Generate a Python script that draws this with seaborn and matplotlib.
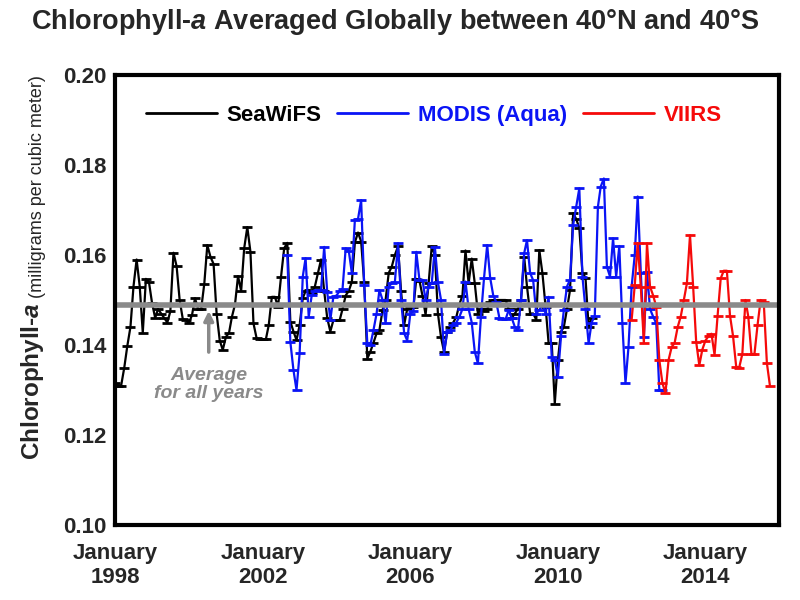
import pandas as pd
import matplotlib
matplotlib.use('Agg')
import matplotlib.pyplot as plt
import matplotlib.dates as mdates
import seaborn as sns
from matplotlib.lines import Line2D

# monthly chlorophyll-a (mg per cubic meter)
seawifs_start = '1998-01-01'
seawifs_chl = [
    0.1316, 0.1310, 0.1310, 0.1350, 0.1398, 0.1440, 0.1530, 0.1590, 0.1530, 0.1427, 0.1547, 0.1540,  # 1998
    0.1493, 0.1460, 0.1480, 0.1470, 0.1460, 0.1450, 0.1475, 0.1605, 0.1575, 0.1500, 0.1458, 0.1455,  # 1999
    0.1449, 0.1467, 0.1504, 0.1480, 0.1480, 0.1536, 0.1622, 0.1596, 0.1580, 0.1470, 0.1410, 0.1389,  # 2000
    0.1418, 0.1427, 0.1462, 0.1490, 0.1553, 0.1520, 0.1615, 0.1662, 0.1607, 0.1448, 0.1415, 0.1413,  # 2001
    0.1413, 0.1413, 0.1444, 0.1507, 0.1507, 0.1485, 0.1552, 0.1615, 0.1627, 0.1452, 0.1430, 0.1411,  # 2002
    0.1444, 0.1504, 0.1520, 0.1522, 0.1515, 0.1530, 0.1560, 0.1590, 0.1520, 0.1460, 0.1430, 0.1455,  # 2003
    0.1455, 0.1455, 0.1480, 0.1510, 0.1520, 0.1540, 0.1628, 0.1650, 0.1630, 0.1540, 0.1370, 0.1385,  # 2004
    0.1405, 0.1426, 0.1433, 0.1478, 0.1500, 0.1560, 0.1574, 0.1600, 0.1619, 0.1520, 0.1445, 0.1480,  # 2005
    0.1485, 0.1485, 0.1547, 0.1543, 0.1510, 0.1467, 0.1537, 0.1619, 0.1600, 0.1470, 0.1417, 0.1385,  # 2006
    0.1430, 0.1440, 0.1450, 0.1462, 0.1490, 0.1510, 0.1610, 0.1537, 0.1592, 0.1537, 0.1470, 0.1480,  # 2007
    0.1475, 0.1480, 0.1495, 0.1500, 0.1500, 0.1500, 0.1500, 0.1500, 0.1480, 0.1460, 0.1470, 0.1480,  # 2008
    0.1500, 0.1596, 0.1530, 0.1470, 0.1470, 0.1456, 0.1611, 0.1559, 0.1485, 0.1404, 0.1404, 0.1270,  # 2009
    0.1367, 0.1430, 0.1440, 0.1480, 0.1522, 0.1693, 0.1680, 0.1660, 0.1560, 0.1550, 0.1441, 0.1460,  # 2010
]

modis_start = '2002-09-01'
modis_chl = [
    0.1600, 0.1407, 0.1344, 0.1300,  # 2002
    0.1382, 0.1552, 0.1593, 0.1463, 0.1511, 0.1520, 0.1522, 0.1522, 0.1618, 0.1518, 0.1456, 0.1507,  # 2003
    0.1510, 0.1520, 0.1525, 0.1615, 0.1610, 0.1560, 0.1678, 0.1680, 0.1722, 0.1533, 0.1404, 0.1400,  # 2004
    0.1433, 0.1470, 0.1522, 0.1500, 0.1448, 0.1530, 0.1537, 0.1540, 0.1626, 0.1500, 0.1426, 0.1410,  # 2005
    0.1470, 0.1475, 0.1607, 0.1545, 0.1545, 0.1500, 0.1530, 0.1537, 0.1618, 0.1540, 0.1500, 0.1381,  # 2006
    0.1430, 0.1433, 0.1445, 0.1450, 0.1462, 0.1480, 0.1541, 0.1480, 0.1450, 0.1385, 0.1359, 0.1463,  # 2007
    0.1550, 0.1622, 0.1550, 0.1510, 0.1495, 0.1460, 0.1458, 0.1457, 0.1478, 0.1460, 0.1440, 0.1433,  # 2008
    0.1500, 0.1604, 0.1633, 0.1560, 0.1544, 0.1470, 0.1478, 0.1490, 0.1470, 0.1507, 0.1374, 0.1367,  # 2009
    0.1330, 0.1420, 0.1478, 0.1530, 0.1545, 0.1667, 0.1707, 0.1748, 0.1552, 0.1480, 0.1404, 0.1450,  # 2010
    0.1465, 0.1707, 0.1752, 0.1770, 0.1574, 0.1552, 0.1637, 0.1552, 0.1620, 0.1448, 0.1315, 0.1396,  # 2011
    0.1530, 0.1600, 0.1730, 0.1560, 0.1418, 0.1563, 0.1480, 0.1463, 0.1448, 0.1300, 0.1300,  # 2012
]

viirs_start = '2012-01-01'
viirs_chl = [
    0.1456, 0.1533, 0.1626, 0.1529, 0.1404, 0.1626, 0.1530, 0.1510, 0.1485, 0.1367, 0.1315, 0.1293,  # 2012
    0.1367, 0.1396, 0.1404, 0.1440, 0.1463, 0.1500, 0.1537, 0.1644, 0.1530, 0.1407, 0.1355, 0.1390,  # 2013
    0.1410, 0.1420, 0.1425, 0.1378, 0.1465, 0.1548, 0.1565, 0.1565, 0.1465, 0.1420, 0.1352, 0.1350,  # 2014
    0.1380, 0.1500, 0.1463, 0.1380, 0.1380, 0.1445, 0.1500, 0.1495, 0.1360, 0.1310,  # 2015
]

sensors = ['SeaWiFS', 'MODIS (Aqua)', 'VIIRS']
colors = ['black', '#0a14f5', '#f50a0a']
average_chl = 0.149
tick_years = [1998, 2002, 2006, 2010, 2014]
y_ticks = [0.10, 0.12, 0.14, 0.16, 0.18, 0.20]

frames = []
for name, start, vals in [(sensors[0], seawifs_start, seawifs_chl),
                          (sensors[1], modis_start, modis_chl),
                          (sensors[2], viirs_start, viirs_chl)]:
    frames.append(pd.DataFrame({'date': pd.date_range(start, periods=len(vals), freq='MS'),
                                'chl': vals, 'sensor': name}))
df = pd.concat(frames, ignore_index=True)

sns.set_style('white')
plt.rcParams['font.family'] = ['Liberation Sans', 'DejaVu Sans']
plt.rcParams['mathtext.fontset'] = 'custom'
plt.rcParams['mathtext.bfit'] = 'Liberation Sans:italic:bold'
plt.rcParams['mathtext.it'] = 'Liberation Sans:italic'

fig = plt.figure(figsize=(8, 6), dpi=100)
ax = fig.add_axes([0.144, 0.125, 0.830, 0.75])

sns.lineplot(data=df, x='date', y='chl', hue='sensor', hue_order=sensors,
             palette=colors, marker='_', markersize=7, markeredgewidth=2,
             linewidth=1.6, legend=False, ax=ax)
# seaborn gives markers a white edge; use the line colour instead
for ln in ax.lines:
    ln.set_markeredgecolor(ln.get_color())

ax.axhline(average_chl, color='#8a8a8a', lw=4, zorder=2.5)

ax.set_xlim(pd.Timestamp('1998-01-01'), pd.Timestamp('2016-01-01'))
ax.set_ylim(0.10, 0.20)
ax.set_yticks(y_ticks)
ax.set_yticklabels([f'{v:.2f}' for v in y_ticks])
ax.set_xticks([pd.Timestamp(f'{y}-01-01') for y in tick_years])
ax.set_xticklabels([f'January\n{y}' for y in tick_years])
ax.tick_params(length=0, labelsize=16)
ax.tick_params(axis='x', pad=13)
ax.tick_params(axis='y', pad=6)
for lab in ax.get_xticklabels() + ax.get_yticklabels():
    lab.set_fontweight('bold')
ax.set_xlabel('')
ax.set_ylabel('')
for s in ax.spines.values():
    s.set_linewidth(3)
    s.set_color('black')

# arrow and note for the long-term average
note_x = mdates.date2num(pd.Timestamp('2000-07-15'))
ax.annotate('', xy=(note_x, 0.1482), xytext=(note_x, 0.1378),
            arrowprops=dict(arrowstyle='-|>', color='#8a8a8a', lw=2.5, mutation_scale=14))
ax.text(note_x, 0.1313, 'Average\nfor all years',
        ha='center', va='center', color='#8a8a8a', fontsize=14, fontweight='bold',
        fontstyle='italic', linespacing=1.1)

handles = [Line2D([], [], color=c, lw=2) for c in colors]
ax.legend(handles, sensors, ncol=3, loc='center', bbox_to_anchor=(0.480, 0.911),
          frameon=False, handlelength=3.2, columnspacing=0.7, handletextpad=0.45,
          labelcolor=colors, prop=dict(weight='bold', size=16))

fig.text(0.494, 0.963, r'Chlorophyll-$\mathbfit{a}$ Averaged Globally between 40°N and 40°S',
         ha='center', va='center', fontsize=19.5, fontweight='bold')

t1 = fig.text(0.041, 0.233, r'Chlorophyll-$\mathbfit{a}$', rotation=90, ha='center',
              va='bottom', fontsize=17.5, fontweight='bold')
ax.annotate(' (milligrams per cubic meter)', xy=(1, 1), xycoords=t1, rotation=90,
            ha='right', va='bottom', fontsize=13, annotation_clip=False)

fig.savefig('out.png', dpi=100)
